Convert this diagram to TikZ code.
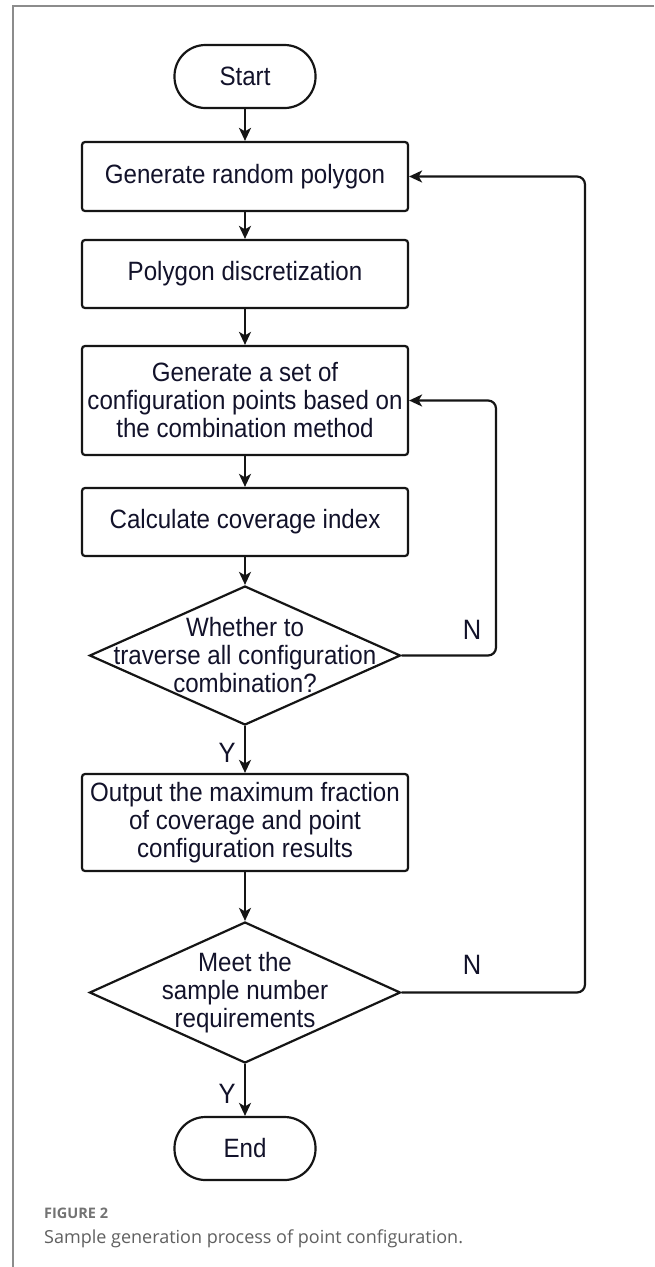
\documentclass[tikz,border=0pt]{standalone}
\usepackage{fontspec}
\setmainfont{Liberation Sans}[FakeStretch=0.91]
\newfontfamily\capfont{Open Sans}
\usetikzlibrary{arrows.meta,shapes.geometric}
\definecolor{ln}{HTML}{151515}
\definecolor{frm}{HTML}{8C8C8C}
\definecolor{figgray}{HTML}{737373}
\definecolor{capgray}{HTML}{606060}
\definecolor{txtc}{HTML}{12122A}
\begin{document}
\begin{tikzpicture}[x=1pt,y=-1pt,
  mainfont/.style={font=\fontsize{26.5}{28}\selectfont, text=txtc},
  proc/.style={draw=ln, line width=2.2pt, rounded corners=3pt, minimum width=326pt,
    inner sep=0pt, align=center, mainfont},
  term/.style={draw=ln, line width=2.2pt, rounded corners=31pt, minimum width=141pt,
    minimum height=63pt, inner sep=0pt, align=center, mainfont},
  dec/.style={draw=ln, line width=2.2pt, shape=diamond, minimum width=311pt,
    minimum height=139pt, inner sep=0pt},
  dectext/.style={align=center, inner sep=0pt, mainfont},
  yn/.style={font=\fontsize{28}{30}\selectfont, text=txtc, inner sep=0pt},
  arr/.style={draw=ln, line width=2.2pt, -{Stealth[length=13pt,width=12pt,inset=3.5pt]}},
  loop/.style={arr, rounded corners=8pt}]
\useasboundingbox (0,0) rectangle (654,1267);
\fill[white] (0,0) rectangle (654,1267);
% frame
\draw[frm, line width=1.8pt] (654,6) -- (13,6) -- (13,1267);

% nodes
\node[term] (start) at (245,76.5) {Start};
\node[proc, minimum height=69pt] (b1) at (245,176.5) {Generate random polygon};
\node[proc, minimum height=68pt] (b2) at (245,274) {Polygon discretization};
\node[proc, minimum height=109pt] (b3) at (245,400.5) {Generate a set of\\configuration points based on\\the combination method};
\node[proc, minimum height=68pt] (b4) at (245,522) {Calculate coverage index};
\node[dec] (d1) at (245,655.5) {};
\node[dectext] (d1t) at (245,655.5) {Whether to\\traverse all configuration\\combination?};
\node[proc, minimum height=97pt] (out) at (245,822.5) {Output the maximum fraction\\of coverage and point\\configuration results};
\node[dec, minimum height=141pt] (d2) at (245,992.5) {};
\node[dectext] (d2t) at (245,993) {Meet the\\sample number\\requirements};
\node[term] (end) at (245,1148.5) {End};

% labels
\node[yn] (y1) at (227,753) {Y};
\node[yn] (y2) at (227,1094) {Y};
\node[yn] (n1) at (472,630) {N};
\node[yn] (n2) at (472,965) {N};

% connectors
\draw[arr] (start) -- (b1);
\draw[arr] (b1) -- (b2);
\draw[arr] (b2) -- (b3);
\draw[arr] (b3) -- (b4);
\draw[arr] (b4) -- (d1.north);
\draw[arr] (d1.south) -- (out);
\draw[arr] (out) -- (d2.north);
\draw[arr] (d2.south) -- (end);
\coordinate (k1) at (496,655.5);
\coordinate (k2) at (585,992.5);
\draw[loop] (d1.east) -- (k1) |- (b3.east);
\draw[loop] (d2.east) -- (k2) |- (b1.east);

% caption
\node[anchor=base west, inner sep=0pt, text=figgray,
  font=\capfont\bfseries\fontsize{14.5}{16}\selectfont] (fig) at (44,1218) {FIGURE 2};
\node[anchor=base west, inner sep=0pt, text=capgray,
  font=\capfont\fontsize{18}{20}\selectfont] (cap) at (44,1243) {Sample generation process of point configuration.};
\end{tikzpicture}
\end{document}
